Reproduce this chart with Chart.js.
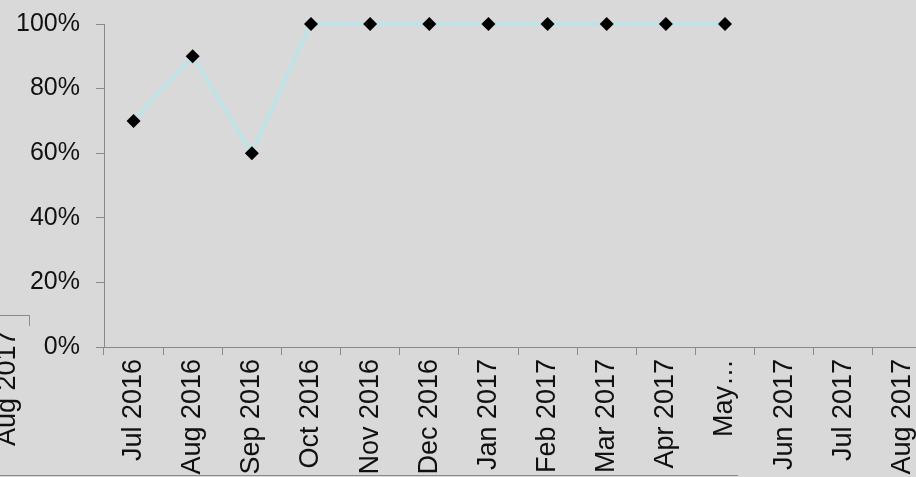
<!DOCTYPE html>
<html>
<head>
<meta charset="utf-8">
<script src="https://cdn.jsdelivr.net/npm/chart.js@4/dist/chart.umd.min.js"></script>
<style>
  html, body { margin: 0; padding: 0; background: #d9d9d9; overflow: hidden; }
  #wrap { position: relative; width: 940px; height: 477px; }
  #bottomLine { position: absolute; left: 0; top: 475px; width: 738px; height: 1px; background: #8a8a8a; }
</style>
</head>
<body>
<div id="wrap">
  <canvas id="rateChart" width="940" height="477"></canvas>
  <div id="bottomLine"></div>
</div>
<script>
//month categories along the x axis
const months = ["Jul 2016", "Aug 2016", "Sep 2016", "Oct 2016", "Nov 2016", "Dec 2016",
  "Jan 2017", "Feb 2017", "Mar 2017", "Apr 2017", "May…", "Jun 2017", "Jul 2017", "Aug 2017"];

//percentage values (no data after May)
const rates = [70, 90, 60, 100, 100, 100, 100, 100, 100, 100, 100, null, null, null];

//y axis tick values
const yTicks = [0, 20, 40, 60, 80, 100];

//leftover label from the neighbouring chart that was cut off at the left edge
const leftoverLabel = "Aug 2017";

const leftoverPlugin = {
  id: "leftover",
  afterDraw(chart) {
    const ctx = chart.ctx;
    ctx.save();
    ctx.strokeStyle = "#8a8a8a";
    ctx.lineWidth = 1;
    ctx.beginPath();
    ctx.moveTo(0, 315.5);
    ctx.lineTo(29.5, 315.5);
    ctx.lineTo(29.5, 326);
    ctx.stroke();
    ctx.translate(15, 446);
    ctx.rotate(-Math.PI / 2);
    ctx.fillStyle = "#111";
    ctx.font = "27px 'Liberation Sans', Arial, sans-serif";
    ctx.textAlign = "left";
    ctx.textBaseline = "alphabetic";
    ctx.fillText(leftoverLabel, 0, 0);
    ctx.restore();
  }
};

const ctx = document.getElementById("rateChart");

new Chart(ctx, {
  type: "line",
  data: {
    labels: months,
    datasets: [{
      data: rates,
      borderColor: "#bce4e8",
      borderWidth: 3.5,
      pointStyle: "rectRot",
      pointRadius: 7,
      pointBackgroundColor: "#000",
      pointBorderColor: "#000",
      pointBorderWidth: 0,
      tension: 0,
      fill: false,
      clip: false
    }]
  },
  options: {
    responsive: false,
    animation: false,
    layout: { padding: { left: 0, right: 8, top: 24, bottom: 0 } },
    plugins: {
      legend: { display: false },
      tooltip: { enabled: false }
    },
    scales: {
      x: {
        offset: true,
        grid: {
          offset: true,
          drawOnChartArea: false,
          drawTicks: true,
          tickLength: 8,
          color: "#8a8a8a"
        },
        border: { color: "#8a8a8a", width: 1 },
        ticks: {
          autoSkip: false,
          minRotation: 90,
          maxRotation: 90,
          padding: 4,
          color: "#111",
          font: { family: "'Liberation Sans', Arial, sans-serif", size: 27 }
        },
        afterFit(scale) {
          scale.height = 130;
          scale.paddingLeft = 0;
          scale.paddingRight = 0;
        }
      },
      y: {
        min: 0,
        max: 100,
        afterBuildTicks(scale) { scale.ticks = yTicks.map(v => ({ value: v })); },
        grid: {
          drawOnChartArea: false,
          drawTicks: true,
          tickLength: 8,
          color: "#8a8a8a"
        },
        border: { color: "#8a8a8a", width: 1 },
        ticks: {
          padding: 16,
          color: "#111",
          font: { family: "'Liberation Sans', Arial, sans-serif", size: 25 },
          callback: v => v + "%"
        },
        afterFit(scale) {
          scale.width = 104;
          scale.paddingTop = 0;
          scale.paddingBottom = 0;
        }
      }
    }
  },
  plugins: [leftoverPlugin]
});
</script>
</body>
</html>
